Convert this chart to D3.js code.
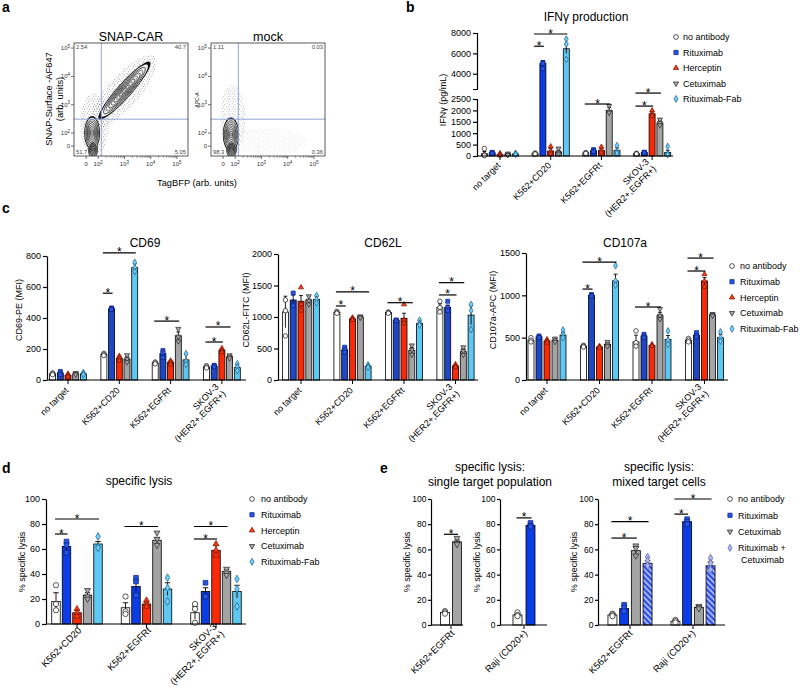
<!DOCTYPE html>
<html><head><meta charset="utf-8">
<script src="https://cdn.jsdelivr.net/npm/d3@7"></script>
<style>
body{margin:0;background:#fff;}
svg{font-family:"Liberation Sans",Arial,sans-serif;}
</style></head><body>
<svg id="fig" width="800" height="688"></svg>
<script>
// ---------------- DATA ----------------
const seriesNames = ["no antibody","Rituximab","Herceptin","Cetuximab","Rituximab-Fab"];
const comboNames = ["no antibody","Rituximab","Cetuximab","Rituximab +|Cetuximab"];

// panel a (flow cytometry), values in decade units of the biexponential axes
const flowXDom = [1.08, 5.42];
const flowYDom = [1.19, 5.18];
const flowTicks = [{v:1.54,t:"0"},{v:2,t:"10",e:"2"},{v:3,t:"10",e:"3"},{v:4,t:"10",e:"4"},{v:5,t:"10",e:"5"}];
const flowGate = {x:2.12, y:2.49};
const snapQuad = ["2.54","40.7","51.7","5.05"];
const mockQuad = ["1.11","0.03","98.3","0.36"];
const snapPops = [
  {cx:1.77, cy:2.0, ux:0, uy:0.6, vx:0.30, vy:0},
  {cx:1.80, cy:1.42, ux:0, uy:0.30, vx:0.19, vy:0},
  {cx:3.0, cy:3.5, ux:0.97, uy:1.01, vx:0.21, vy:-0.17}
];
const snapHalos = [
  {cx:2.95, cy:3.45, ux:1.2, uy:1.25, vx:0.45, vy:-0.37, op:0.8},
  {cx:1.85, cy:2.3, ux:0, uy:1.1, vx:0.55, vy:0, op:0.8}
];
const mockPops = [
  {cx:1.84, cy:1.95, ux:0, uy:0.6, vx:0.31, vy:0},
  {cx:1.86, cy:1.42, ux:0, uy:0.30, vx:0.20, vy:0}
];
const mockHalos = [
  {cx:1.9, cy:2.5, ux:0, uy:1.2, vx:0.48, vy:0, op:0.65},
  {cx:3.2, cy:1.7, ux:1.5, uy:0, vx:0, vy:0.45, op:0.22}
];

// panel b: IFNg production (pg/mL)  [series][category]
const catsB = ["no target","K562+CD20","K562+EGFRt","SKOV-3|(HER2+,EGFR+)"];
const ifngMeans = [[100,110,130,100],[140,5000,230,150],[60,220,240,1850],[70,180,2000,1450],[90,6450,250,150]];
const ifngErrs  = [[100,15,20,15],[20,280,40,20],[35,100,80,80],[30,70,130,110],[20,440,110,100]];
const ifngPts = [
  [[330,60,20],[130,100,90],[150,120,110],[120,100,90]],
  [[160,140,120],[5100,5000,4500],[280,220,200],[170,150,140]],
  [[120,60,20],[420,200,100],[400,250,150],[2000,1850,1750]],
  [[110,60,50],[330,150,100],[2200,1950,1900],[1600,1450,1350]],
  [[120,90,70],[7400,6900,5400],[460,200,120],[420,100,60]]
];
const ifngTicksLow = [0,500,1000,1500,2000,2500];
const ifngTicksHigh = [4000,6000,8000];
const ifngSig = [[1,0,1,6700],[1,0,4,7900],[2,0,3,2280],[3,0,2,2190],[3,0,3,2760,"lo"]];

// panel c
const catsC = ["no target","K562+CD20","K562+EGFRt","SKOV-3|(HER2+,EGFR+)"];
const cd69Means = [[40,165,110,85],[45,460,170,90],[30,140,115,190],[40,135,285,150],[40,725,130,80]];
const cd69Errs  = [[5,8,5,6],[8,8,25,8],[8,15,12,10],[5,15,25,10],[5,25,35,15]];
const cd69Pts = [
  [[46,40,34],[172,165,158],[116,110,104],[92,85,78]],
  [[55,45,35],[465,460,455],[190,175,145],[95,90,85]],
  [[40,30,22],[155,140,125],[125,115,100],[205,190,180]],
  [[45,40,35],[160,135,115],[330,280,250],[160,150,140]],
  [[48,40,35],[760,725,700],[170,120,100],[105,85,60]]
];
const cd69Ticks = [0,200,400,600,800];
const cd69Sig = [[1,0,1,560],[1,0,4,820],[2,0,3,380],[3,0,2,245],[3,0,3,342]];

const cd62lMeans = [[1080,1070,1070,1150],[1270,480,950,1150],[1250,970,980,220],[1270,1000,470,450],[1280,220,900,1030]];
const cd62lErrs  = [[250,20,20,60],[80,40,10,40],[90,20,80,20],[60,15,50,50],[50,15,40,150]];
const cd62lPts = [
  [[1270,1100,700],[1090,1070,1060],[1080,1070,1060],[1250,1150,1080]],
  [[1380,1200,1180],[520,480,440],[950,950,940],[1250,1150,1100]],
  [[1470,1200,1100],[990,970,950],[1200,950,900],[250,220,200]],
  [[1330,1260,1200],[1010,1000,990],[550,480,400],[520,460,400]],
  [[1340,1280,1220],[240,220,200],[950,900,870],[1200,1100,800]]
];
const cd62lTicks = [0,500,1000,1500,2000];
const cd62lSig = [[1,0,1,1175],[1,0,4,1400],[2,0,3,1227],[3,0,2,1350],[3,0,3,1545]];

const cd107Means = [[470,400,450,470],[510,1000,520,530],[460,390,410,1170],[470,420,760,770],[530,1170,480,500]];
const cd107Errs  = [[20,10,80,15],[15,20,25,20],[20,10,10,40],[15,20,40,10],[30,80,45,40]];
const cd107Pts = [
  [[500,470,450],[410,400,390],[580,440,400],[490,470,450]],
  [[520,510,500],[1010,1000,990],[540,520,500],[560,530,510]],
  [[480,460,440],[400,390,380],[420,410,400],[1250,1170,1100]],
  [[490,470,450],[450,420,400],[840,760,720],[780,770,760]],
  [[590,540,500],[1350,1170,1120],[580,470,420],[570,500,460]]
];
const cd107Ticks = [0,500,1000,1500];
const cd107Sig = [[1,0,1,1074],[1,0,4,1393],[2,0,3,862],[3,0,2,1287],[3,0,3,1440]];

// panel d: specific lysis (%)
const catsD = ["K562+CD20","K562+EGFRt","SKOV-3|(HER2+,EGFR+)"];
const lysisMeans = [[18,13,9],[62,30,26],[9,16,59],[23,67,42],[64,28,26]];
const lysisErrs  = [[7,4,5],[3,4,3],[2,1.5,4],[2,2,1.5],[2,5,5]];
const lysisPts = [
  [[31,16,11],[22,10,8],[16,12,1]],
  [[66,63,57],[37,34,23],[33,22,22]],
  [[12,9,6],[19,16,14],[64,59,55]],
  [[27,22,20],[73,68,63],[44,41,39]],
  [[70,62,61],[37,29,18],[36,28,14]]
];
const pctTicks = [0,20,40,60,80,100];
const lysisSig = [[0,0,1,72],[0,0,4,84],[1,0,3,78],[2,0,2,68],[2,0,3,78]];

// panel e
const catsE1 = ["K562+EGFRt"];
const singleEgfrMeans = [[10],[66]];
const singleEgfrErrs = [[0.8],[1.5]];
const singleEgfrPts = [[[11,10,9]],[[69,65,64]]];
const singleEgfrSig = [[0,0,1,72]];
const catsE2 = ["Raji (CD20+)"];
const singleRajiMeans = [[8],[79]];
const singleRajiErrs = [[0.8],[1]];
const singleRajiPts = [[[10,8,7]],[[81,79,78]]];
const singleRajiSig = [[0,0,1,85]];
const catsE3 = ["K562+EGFRt","Raji (CD20+)"];
const mixedMeans = [[8,3],[13,82],[59,14],[49,47]];
const mixedErrs  = [[1,0.7],[2,1.5],[3,1],[2,3]];
const mixedPts = [
  [[9,8,7],[4,3,2]],
  [[16,14,11],[84,82,80]],
  [[63,61,55],[15,14,13]],
  [[54,51,47],[53,49,44]]
];
const mixedSig = [[0,0,2,69],[0,0,3,82],[1,0,1,88],[1,0,3,100]];

// ---------------- STYLES ----------------
const styles = [
  {bar:"#ffffff", mk:"#ffffff", ms:"#111", sym:d3.symbolCircle, k:1},
  {bar:"#0b3de6", mk:"#2456ea", ms:"#0a1f80", sym:d3.symbolSquare, k:1},
  {bar:"#fa2a08", mk:"#ff3a14", ms:"#7a1000", sym:d3.symbolTriangle, k:0.7},
  {bar:"#a4a4a4", mk:"#a8a8a8", ms:"#222", sym:d3.symbolTriangle, rot:true, k:0.7},
  {bar:"#5ec8f2", mk:"#70d0f8", ms:"#1b5f88", sym:d3.symbolDiamond, k:0.8},
  {bar:"url(#hatch)", mk:"#b4b8f0", ms:"#505ab0", sym:d3.symbolDiamond, k:0.8}
];

const svg = d3.select("#fig");
const defs = svg.append("defs");
const hp = defs.append("pattern").attr("id","hatch").attr("patternUnits","userSpaceOnUse")
  .attr("width",4).attr("height",4).attr("patternTransform","rotate(-45)");
hp.append("rect").attr("width",4).attr("height",4).attr("fill","#2a4ee0");
hp.append("rect").attr("width",1.7).attr("height",4).attr("fill","#b8c4f4");
const dp = defs.append("pattern").attr("id","dots").attr("patternUnits","userSpaceOnUse").attr("width",5).attr("height",5);
[[1,1],[3.6,1.8],[2.2,3.8],[4.4,4.3]].forEach(([a,b])=>dp.append("circle").attr("cx",a).attr("cy",b).attr("r",0.45).attr("fill","#333"));

function letter(t,x,y){ svg.append("text").attr("x",x).attr("y",y).attr("font-size",14).attr("font-weight","bold").text(t); }

// ---------------- PANEL A ----------------
function ell(p,f,xs,ys){
  const pts = d3.range(0, 73).map(i=>{ const t=i*Math.PI/36;
    return [xs(p.cx + f*(p.ux*Math.cos(t)+p.vx*Math.sin(t))), ys(p.cy + f*(p.uy*Math.cos(t)+p.vy*Math.sin(t)))]; });
  return d3.line()(pts)+"Z";
}
function flowPanel(x0,x1,title,pops,halos,quad){
  const y0=156, y1=43;
  const xs = d3.scaleLinear().domain(flowXDom).range([x0,x1]);
  const ys = d3.scaleLinear().domain(flowYDom).range([y0,y1]);
  const g = svg.append("g");
  const id="clip"+x0;
  defs.append("clipPath").attr("id",id).append("rect").attr("x",x0).attr("y",y1).attr("width",x1-x0).attr("height",y0-y1);
  const cg = g.append("g").attr("clip-path",`url(#${id})`);
  halos.forEach(h=>cg.append("path").attr("d",ell(h,1,xs,ys)).attr("fill","url(#dots)").attr("opacity",h.op));
  pops.forEach(p=>cg.append("path").attr("d",ell(p,1,xs,ys)).attr("fill","#111"));
  pops.forEach(p=>cg.append("path").attr("d",ell(p,0.9,xs,ys)).attr("fill","#f2f2f2"));
  [0.8,0.7,0.6,0.5,0.4,0.3,0.2,0.1].forEach((f,i)=>pops.forEach(p=>cg.append("path").attr("d",ell(p,f,xs,ys))
     .attr("fill","none").attr("stroke",i%2?"#444":"#111").attr("stroke-width",0.8)));
  // gates
  g.append("line").attr("x1",xs(flowGate.x)).attr("x2",xs(flowGate.x)).attr("y1",y1).attr("y2",y0).attr("stroke","#8ea6d8").attr("stroke-width",1);
  g.append("line").attr("x1",x0).attr("x2",x1).attr("y1",ys(flowGate.y)).attr("y2",ys(flowGate.y)).attr("stroke","#8ea6d8").attr("stroke-width",1);
  g.append("rect").attr("x",x0).attr("y",y1).attr("width",x1-x0).attr("height",y0-y1).attr("fill","none").attr("stroke","#333").attr("stroke-width",0.8);
  // ticks
  flowTicks.forEach(t=>{
    g.append("line").attr("x1",x0-3).attr("x2",x0).attr("y1",ys(t.v)).attr("y2",ys(t.v)).attr("stroke","#333").attr("stroke-width",0.7);
    g.append("line").attr("x1",xs(t.v)).attr("x2",xs(t.v)).attr("y1",y0).attr("y2",y0+3).attr("stroke","#333").attr("stroke-width",0.7);
    const ty = g.append("text").attr("x",x0-4).attr("y",ys(t.v)+2).attr("text-anchor","end").attr("font-size",6).attr("fill","#333").text(t.t);
    if(t.e) ty.append("tspan").attr("dy",-2.5).attr("font-size",4.5).text(t.e);
    const tx = g.append("text").attr("x",xs(t.v)).attr("y",y0+10).attr("text-anchor","middle").attr("font-size",6).attr("fill","#333").text(t.t);
    if(t.e) tx.append("tspan").attr("dy",-2.5).attr("font-size",4.5).text(t.e);
  });
  [2,3,4].forEach(d=>d3.range(2,10).forEach(m=>{
    const v=d+Math.log10(m);
    g.append("line").attr("x1",xs(v)).attr("x2",xs(v)).attr("y1",y0).attr("y2",y0+1.8).attr("stroke","#333").attr("stroke-width",0.5);
  }));
  // quadrant numbers
  const qf=5.8;
  g.append("text").attr("x",x0+2).attr("y",y1+6).attr("font-size",qf).attr("fill","#444").text(quad[0]);
  g.append("text").attr("x",x1-2).attr("y",y1+6).attr("font-size",qf).attr("text-anchor","end").attr("fill","#444").text(quad[1]);
  g.append("text").attr("x",x0+2).attr("y",y0-2).attr("font-size",qf).attr("fill","#444").text(quad[2]);
  g.append("text").attr("x",x1-2).attr("y",y0-2).attr("font-size",qf).attr("text-anchor","end").attr("fill","#444").text(quad[3]);
  g.append("text").attr("x",(x0+x1)/2).attr("y",41).attr("text-anchor","middle").attr("font-size",12.5).text(title);
}
letter("a",2,12);
flowPanel(74,188,"SNAP-CAR",snapPops,snapHalos,snapQuad);
flowPanel(211,325,"mock",mockPops,mockHalos,mockQuad);
svg.append("text").attr("transform","translate(52,99) rotate(-90)").attr("text-anchor","middle").attr("font-size",9.3).text("SNAP-Surface -AF647");
svg.append("text").attr("transform","translate(63,99) rotate(-90)").attr("text-anchor","middle").attr("font-size",9.3).text("(arb. units)");
svg.append("text").attr("transform","translate(199,100) rotate(-90)").attr("text-anchor","middle").attr("font-size",5).text("APC-A");
svg.append("text").attr("x",197).attr("y",186).attr("text-anchor","middle").attr("font-size",9.3).text("TagBFP (arb. units)");

// ---------------- BAR PANELS ----------------
function barPanel(o){
  const g = svg.append("g");
  const n = o.series.length;
  const xg = d3.scaleBand().domain(o.cats).range([o.c0-o.step/2, o.c0-o.step/2+o.step*o.cats.length]);
  const xs = d3.scaleBand().domain(d3.range(n)).range([-n*o.bs/2, n*o.bs/2]);
  const cx = c => xg(c)+xg.bandwidth()/2;
  const bx = (ci,si) => cx(o.cats[ci]) + xs(si) + xs.bandwidth()/2;
  const y = o.y;
  const recs = [];
  o.series.forEach((sk,si)=>o.cats.forEach((c,ci)=>recs.push({si,ci,sk,v:o.means[si][ci],e:o.errs[si][ci],p:o.pts[si][ci]})));
  g.selectAll("rect.bar").data(recs).join("rect").attr("class","bar")
    .attr("x",d=>bx(d.ci,d.si)-o.bw/2).attr("y",d=>y(d.v)).attr("width",o.bw).attr("height",d=>o.yB-y(d.v))
    .attr("fill",d=>(o.fill&&o.fill[d.sk])||styles[d.sk].bar).attr("stroke","#000").attr("stroke-width",0.8);
  const eb = g.selectAll("g.err").data(recs).join("g").attr("class","err").attr("stroke","#000").attr("stroke-width",0.9);
  eb.append("line").attr("x1",d=>bx(d.ci,d.si)).attr("x2",d=>bx(d.ci,d.si))
    .attr("y1",d=>y(Math.max(0,d.v-d.e))).attr("y2",d=>y(d.v+d.e));
  eb.append("line").attr("x1",d=>bx(d.ci,d.si)-o.bw*0.32).attr("x2",d=>bx(d.ci,d.si)+o.bw*0.32)
    .attr("y1",d=>y(d.v+d.e)).attr("y2",d=>y(d.v+d.e));
  const pts = recs.flatMap(d=>d.p.map(v=>Object.assign({},d,{pv:v})));
  g.selectAll("path.pt").data(pts).join("path").attr("class","pt")
    .attr("d",d=>d3.symbol(styles[d.sk].sym,o.ms*styles[d.sk].k)())
    .attr("transform",d=>`translate(${bx(d.ci,d.si)},${y(d.pv)})`+(styles[d.sk].rot?" rotate(180)":""))
    .attr("fill",d=>styles[d.sk].mk).attr("stroke",d=>styles[d.sk].ms).attr("stroke-width",0.7);
  // x axis
  g.append("line").attr("x1",o.xA).attr("x2",o.xE).attr("y1",o.yB).attr("y2",o.yB).attr("stroke","#000").attr("stroke-width",1.2);
  const xa = g.append("g").attr("transform",`translate(0,${o.yB})`)
    .call(d3.axisBottom(xg).tickSize(4).tickSizeOuter(0).tickFormat(""));
  xa.select(".domain").remove();
  // category labels
  o.cats.forEach(c=>{
    const lines=c.split("|");
    const t = g.append("text").attr("transform",`translate(${cx(c)+o.lab[0]},${o.yB+o.lab[1]}) rotate(-45)`)
      .attr("text-anchor","end").attr("font-size",o.lf);
    lines.forEach((l,i)=>t.append("tspan").attr("x",0).attr("y",(i-(lines.length-1)/2)*o.lf*1.1).text(l));
  });
  // y axes
  o.yAxes.forEach(a=>{
    const ag = g.append("g").attr("transform",`translate(${o.xA},0)`)
      .call(d3.axisLeft(a.scale).tickValues(a.ticks).tickFormat(d3.format("d")).tickSize(o.ts||4).tickSizeOuter(a.outer||0).tickPadding(o.tp||2));
    ag.attr("font-family",null).attr("font-size",o.tf||9);
    ag.selectAll("path,line").attr("stroke-width",1.2);
  });
  // significance
  o.sig.forEach(s=>{
    const yy = (s[4]==="lo"?o.yLo:y)(s[3]);
    const xa1 = bx(s[0],s[1])-1, xa2 = bx(s[0],s[2])+1;
    g.append("line").attr("x1",xa1).attr("x2",xa2).attr("y1",yy).attr("y2",yy).attr("stroke","#000").attr("stroke-width",1.2);
    g.append("text").attr("x",(xa1+xa2)/2).attr("y",yy+3.5).attr("text-anchor","middle").attr("font-size",12).text("*");
  });
  // y label
  g.append("text").attr("transform",`translate(${o.ylx},${o.yly}) rotate(-90)`).attr("text-anchor","middle").attr("font-size",o.ylf||9).text(o.ylab);
  // title
  (o.title||[]).forEach((tl,i)=>g.append("text").attr("x",o.tx).attr("y",o.ty+i*15).attr("text-anchor","middle").attr("font-size",12).text(tl));
}

function legend(x,y0,dy,items,tx){
  items.forEach((it,i)=>{
    const st=styles[it.sk];
    svg.append("path").attr("d",d3.symbol(st.sym,18*st.k)()).attr("transform",`translate(${x},${y0+i*dy})`+(st.rot?" rotate(180)":""))
      .attr("fill",st.mk).attr("stroke",st.ms).attr("stroke-width",0.7);
    const lines=it.label.split("|");
    lines.forEach((l,j)=>svg.append("text").attr("x",x+(tx||8)+(j?3:0)).attr("y",y0+i*dy+3.3+j*12).attr("font-size",9).text(l));
  });
}

// ---- panel b ----
letter("b",406,12);
const yLoB = d3.scaleLinear().domain([0,2500]).range([156,99]);
const yHiB = d3.scaleLinear().domain([2500,8000]).range([89,33]);
const yB = v => v<=2500 ? yLoB(v) : yHiB(v);
barPanel({cats:catsB, series:[0,1,2,3,4], means:ifngMeans, errs:ifngErrs, pts:ifngPts, sig:ifngSig,
  y:yB, yLo:yLoB, yB:156, xA:477, xE:673, c0:500, step:50.7, bs:7.8, bw:6, ms:16,
  yAxes:[{scale:yLoB,ticks:ifngTicksLow,outer:4},{scale:yHiB,ticks:ifngTicksHigh,outer:4}],
  lab:[1,10], lf:9, ylab:"IFNγ (pg/mL)", ylx:446, yly:100, title:["IFNγ production"], tx:586, ty:21});
legend(676,37,15.5,seriesNames.map((l,i)=>({sk:i,label:l})),7);

// ---- panel c ----
letter("c",2,213);
const cBlue = {1:"#1f46c4"};
const yCD69 = d3.scaleLinear().domain([0,800]).range([380,256]);
barPanel({cats:catsC, series:[0,1,2,3,4], means:cd69Means, errs:cd69Errs, pts:cd69Pts, sig:cd69Sig, fill:cBlue,
  y:yCD69, yB:380, xA:47, xE:246, c0:68, step:51.3, bs:7.7, bw:6, ms:16,
  yAxes:[{scale:yCD69,ticks:cd69Ticks}], lab:[1,11], lf:9, ylab:"CD69-PE (MFI)", ylx:22, yly:310, title:["CD69"], tx:145, ty:247});
const yCD62 = d3.scaleLinear().domain([0,2000]).range([380,254]);
barPanel({cats:catsC, series:[0,1,2,3,4], means:cd62lMeans, errs:cd62lErrs, pts:cd62lPts, sig:cd62lSig, fill:cBlue,
  y:yCD62, yB:380, xA:278, xE:478, c0:301, step:51.5, bs:7.8, bw:6, ms:16,
  yAxes:[{scale:yCD62,ticks:cd62lTicks}], lab:[1,11], lf:9, ylab:"CD62L-FITC (MFI)", ylx:249, yly:310, title:["CD62L"], tx:383, ty:247});
const yCD107 = d3.scaleLinear().domain([0,1500]).range([380,253]);
barPanel({cats:catsC, series:[0,1,2,3,4], means:cd107Means, errs:cd107Errs, pts:cd107Pts, sig:cd107Sig, fill:cBlue,
  y:yCD107, yB:380, xA:526, xE:728, c0:547, step:52.5, bs:8, bw:6, ms:16,
  yAxes:[{scale:yCD107,ticks:cd107Ticks}], lab:[1,11], lf:9, ylab:"CD107a-APC (MFI)", ylx:496, yly:310, title:["CD107a"], tx:625, ty:247});
legend(732,266,15.7,seriesNames.map((l,i)=>({sk:i,label:l})),8);

// ---- panel d ----
letter("d",2,473);
const yD = d3.scaleLinear().domain([0,100]).range([624,499]);
barPanel({cats:catsD, series:[0,1,2,3,4], means:lysisMeans, errs:lysisErrs, pts:lysisPts, sig:lysisSig,
  y:yD, yB:624, xA:46, xE:246, c0:77, step:69.5, bs:10.5, bw:8.5, ms:22,
  yAxes:[{scale:yD,ticks:pctTicks}], lab:[5,7], lf:9.5, ylab:"% specific lysis", ylx:25, yly:562, title:["specific lysis"], tx:139, ty:485});
legend(252,499,15.7,seriesNames.map((l,i)=>({sk:i,label:l})),9);

// ---- panel e ----
letter("e",380,473);
const yE = d3.scaleLinear().domain([0,100]).range([625,499]);
barPanel({cats:catsE1, series:[0,3], means:singleEgfrMeans, errs:singleEgfrErrs, pts:singleEgfrPts, sig:singleEgfrSig,
  y:yE, yB:625, xA:431, xE:463, c0:451, step:30, bs:12, bw:9, ms:22, tf:8.5, ts:3, tp:1.5,
  yAxes:[{scale:yE,ticks:pctTicks}], lab:[4,9], lf:9.5, ylab:"% specific lysis", ylx:410, yly:562,
  title:["specific lysis:","single target population"], tx:490, ty:471});
barPanel({cats:catsE2, series:[0,1], means:singleRajiMeans, errs:singleRajiErrs, pts:singleRajiPts, sig:singleRajiSig,
  y:yE, yB:625, xA:500, xE:547, c0:524, step:40, bs:13, bw:9, ms:22, tf:8.5, ts:3, tp:1.5,
  yAxes:[{scale:yE,ticks:pctTicks}], lab:[4,9], lf:9.5, ylab:"% specific lysis", ylx:480, yly:562});
barPanel({cats:catsE3, series:[0,1,3,5], means:mixedMeans, errs:mixedErrs, pts:mixedPts, sig:mixedSig,
  y:yE, yB:625, xA:598, xE:725, c0:630, step:63, bs:11.7, bw:9, ms:22, tf:8.5, ts:3, tp:1.5,
  yAxes:[{scale:yE,ticks:pctTicks}], lab:[3,9], lf:9.5, ylab:"% specific lysis", ylx:577, yly:562,
  title:["specific lysis:","mixed target cells"], tx:659, ty:471});
legend(730,499,16.3,[0,1,3,5].map((sk,i)=>({sk,label:comboNames[i]})),8);
</script></body></html>
